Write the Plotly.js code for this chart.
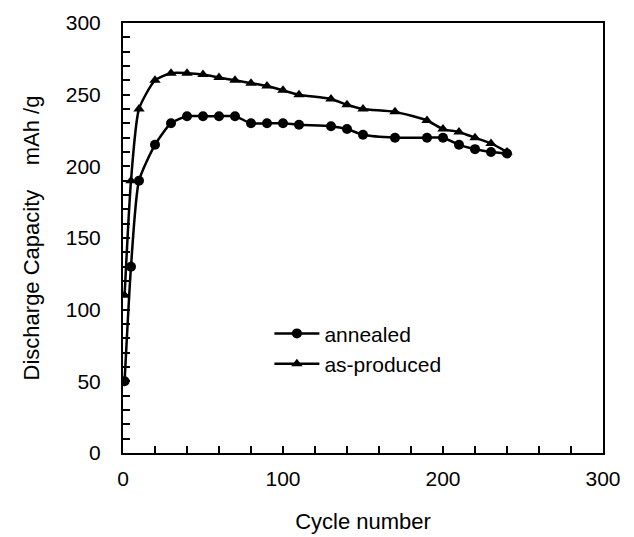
<!DOCTYPE html>
<html>
<head>
<meta charset="utf-8">
<script src="https://cdn.plot.ly/plotly-3.0.1.min.js"></script>
<style>
html,body{margin:0;padding:0;background:#fff;}
#chart{width:634px;height:537px;}
</style>
</head>
<body>
<div id="chart"></div>
<script>
const cycles = [1,5,10,20,30,40,50,60,70,80,90,100,110,130,140,150,170,190,200,210,220,230,240];
const annealed = [50,130,190,215,230,235,235,235,235,230,230,230,229,228,226,222,220,220,220,215,212,210,209];
const asProduced = [110,190,240,260,265,265,264,262,260,258,256,253,250,247,243,240,238,232,226,224,220,216,210];
const seriesNames = ['annealed','as-produced'];
const xTitle = 'Cycle number';
const yTitle = '\u00A0\u00A0\u00A0\u00A0Discharge Capacity\u00A0\u00A0\u00A0\u00A0mAh /g';

const font = 'Liberation Sans, Arial, Helvetica, sans-serif';

const traces = [
  {x: cycles, y: annealed, name: seriesNames[0], type: 'scatter', mode: 'lines+markers',
   line: {color: '#000', width: 2.5, shape: 'spline', smoothing: 0.6},
   marker: {symbol: 'circle', size: 10, color: '#000'}},
  {x: cycles, y: asProduced, name: seriesNames[1], type: 'scatter', mode: 'lines+markers',
   line: {color: '#000', width: 2.5, shape: 'spline', smoothing: 0.6},
   marker: {symbol: 'triangle-up', size: 10, color: '#000'}}
];

const layout = {
  width: 634, height: 537,
  paper_bgcolor: '#fff', plot_bgcolor: '#fff',
  margin: {l: 123, r: 31, t: 23, b: 84},
  font: {family: font, size: 21, color: '#000'},
  showlegend: true,
  legend: {x: 0.305, y: 0.325, xanchor: 'left', yanchor: 'top', bgcolor: 'rgba(0,0,0,0)',
           font: {family: font, size: 21, color: '#000'}, tracegroupgap: 0, itemwidth: 45},
  xaxis: {range: [0, 300], dtick: 100, tick0: 0, ticks: 'inside', ticklen: 7, tickwidth: 2, tickcolor: '#000',
          showline: true, linecolor: '#000', linewidth: 2, mirror: true, showgrid: false, zeroline: false,
          minor: {dtick: 20, ticks: 'inside', ticklen: 7, tickwidth: 2, tickcolor: '#000', showgrid: false},
          tickfont: {family: font, size: 21, color: '#000'}, ticklabelstandoff: 6,
          title: {text: xTitle, font: {family: font, size: 22, color: '#000'}, standoff: 24}},
  yaxis: {range: [0, 300], dtick: 50, tick0: 0, ticks: 'inside', ticklen: 7, tickwidth: 2, tickcolor: '#000',
          showline: true, linecolor: '#000', linewidth: 2, mirror: true, showgrid: false, zeroline: false,
          minor: {dtick: 10, ticks: 'inside', ticklen: 7, tickwidth: 2, tickcolor: '#000', showgrid: false},
          tickfont: {family: font, size: 21, color: '#000'}, ticklabelstandoff: 16,
          title: {text: yTitle, font: {family: font, size: 22, color: '#000'}, standoff: 20}}
};

Plotly.newPlot('chart', traces, layout, {displayModeBar: false, staticPlot: true});
</script>
</body>
</html>
